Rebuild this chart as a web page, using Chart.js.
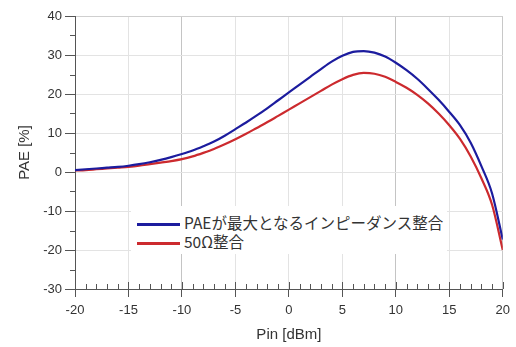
<!DOCTYPE html>
<html>
<head>
<meta charset="utf-8">
<script src="https://cdn.jsdelivr.net/npm/chart.js@4"></script>
<style>
  body { margin: 0; background: #fff; }
  #wrap { position: relative; width: 516px; height: 347px; }
  #legend {
    position: absolute; left: 131px; top: 206px; width: 316px; height: 48px;
    background: #fff; font-family: "Noto Sans CJK JP", sans-serif; font-size: 15.5px; color: #333;
    padding-top: 7px; box-sizing: border-box;
  }
  #legend .row { height: 19px; line-height: 19px; white-space: nowrap; }
  #legend .swatch { display: inline-block; width: 43px; height: 3px; margin: 0 4px 0 6px; vertical-align: middle; }
</style>
</head>
<body>
<div id="wrap">
  <canvas id="pae-chart" width="516" height="347"></canvas>
  <div id="legend"></div>
</div>
<script>
// Pin sweep [dBm] and PAE [%]
var pinDbm = [-20, -19, -18, -17, -16, -15, -14, -13, -12, -11, -10, -9, -8, -7, -6, -5, -4, -3, -2, -1,
  0, 1, 2, 3, 4, 5, 6, 7, 8, 9, 10, 11, 12, 13, 14, 15, 16, 17, 18, 19, 20];
var paeMaxMatch = [0.5, 0.7, 0.9, 1.1, 1.3, 1.6, 2.0, 2.5, 3.1, 3.8, 4.6, 5.5, 6.6, 7.8, 9.3, 11.0, 12.7, 14.5, 16.4, 18.4,
  20.4, 22.4, 24.4, 26.4, 28.3, 29.8, 30.8, 31.0, 30.6, 29.6, 28.0, 26.1, 23.9, 21.3, 18.5, 15.4, 12.0, 7.5, 1.5, -5.5, -17.3];
var pae50ohm = [0.4, 0.5, 0.7, 0.9, 1.1, 1.3, 1.6, 2.0, 2.4, 2.8, 3.3, 4.0, 4.9, 5.9, 7.1, 8.4, 9.8, 11.3, 12.8, 14.4,
  16.0, 17.6, 19.2, 20.8, 22.4, 23.8, 24.9, 25.4, 25.2, 24.4, 23.1, 21.6, 19.8, 17.6, 15.0, 12.0, 8.5, 4.0, -1.6, -8.4, -20.0];
var seriesNames = ['PAEが最大となるインピーダンス整合', '50Ω整合'];
var seriesColors = ['#1c1c9e', '#cc2a2e'];
var xTitle = 'Pin [dBm]';
var yTitle = 'PAE [%]';

function toPoints(ys) {
  return pinDbm.map(function (x, i) { return { x: x, y: ys[i] }; });
}

// minor tick marks: every 1 dBm on x (upward), every 5 % on y (outward)
var minorTicks = {
  id: 'minorTicks',
  afterDraw: function (chart) {
    var ctx = chart.ctx, xs = chart.scales.x, ys = chart.scales.y, a = chart.chartArea;
    ctx.save();
    ctx.strokeStyle = '#555';
    ctx.lineWidth = 1;
    ctx.beginPath();
    for (var v = xs.min; v <= xs.max; v++) {
      var px = Math.round(xs.getPixelForValue(v)) + 0.5;
      ctx.moveTo(px, a.bottom);
      ctx.lineTo(px, a.bottom - (v % 5 === 0 ? 7 : 5));
    }
    for (var w = ys.min + 5; w < ys.max; w += 10) {
      var py = Math.round(ys.getPixelForValue(w)) + 0.5;
      ctx.moveTo(a.left, py);
      ctx.lineTo(a.left - 5, py);
    }
    ctx.stroke();
    ctx.restore();
  }
};

var axisFont = { family: '"Liberation Sans", Arial, sans-serif', size: 13 };
var titleFont = { family: '"Liberation Sans", Arial, sans-serif', size: 15 };

new Chart(document.getElementById('pae-chart'), {
  type: 'line',
  data: {
    datasets: [
      { label: seriesNames[0], data: toPoints(paeMaxMatch), borderColor: seriesColors[0], borderWidth: 2.2,
        pointRadius: 0, cubicInterpolationMode: 'monotone', fill: false },
      { label: seriesNames[1], data: toPoints(pae50ohm), borderColor: seriesColors[1], borderWidth: 2.2,
        pointRadius: 0, cubicInterpolationMode: 'monotone', fill: false }
    ]
  },
  options: {
    responsive: false,
    animation: false,
    layout: { padding: { left: 0, right: 10, top: 16, bottom: 0 } },
    plugins: { legend: { display: false }, tooltip: { enabled: false } },
    scales: {
      x: {
        type: 'linear', min: -20, max: 20,
        afterFit: function (s) { s.height = 58; },
        ticks: { stepSize: 5, color: '#333', font: axisFont, padding: 6, maxRotation: 0 },
        grid: {
          color: function (c) { return (c.tick && Math.abs(c.tick.value) === 10) ? '#c4c4c4' : (c.tick && c.tick.value === 20 ? '#c8c8c8' : '#e3e3e3'); },
          tickColor: '#555', tickLength: 8
        },
        border: { color: '#555', width: 1 },
        title: { display: true, text: xTitle, color: '#333', font: titleFont, padding: { top: 0, bottom: 3 } }
      },
      y: {
        min: -30, max: 40,
        afterFit: function (s) { s.width = 75; },
        ticks: { stepSize: 10, color: '#333', font: axisFont, padding: 3 },
        grid: {
          color: function (c) { return (c.tick && c.tick.value === 40) ? '#cfcfcf' : '#e3e3e3'; },
          tickColor: '#555', tickLength: 10
        },
        border: { color: '#555', width: 1 },
        title: { display: true, text: yTitle, color: '#333', font: titleFont, padding: { top: 16, bottom: 0 } }
      }
    }
  },
  plugins: [minorTicks]
});

// legend drawn as real text over the plot
var legendEl = document.getElementById('legend');
seriesNames.forEach(function (name, i) {
  var row = document.createElement('div');
  row.className = 'row';
  var sw = document.createElement('span');
  sw.className = 'swatch';
  sw.style.background = seriesColors[i];
  row.appendChild(sw);
  row.appendChild(document.createTextNode(name));
  legendEl.appendChild(row);
});
</script>
</body>
</html>
